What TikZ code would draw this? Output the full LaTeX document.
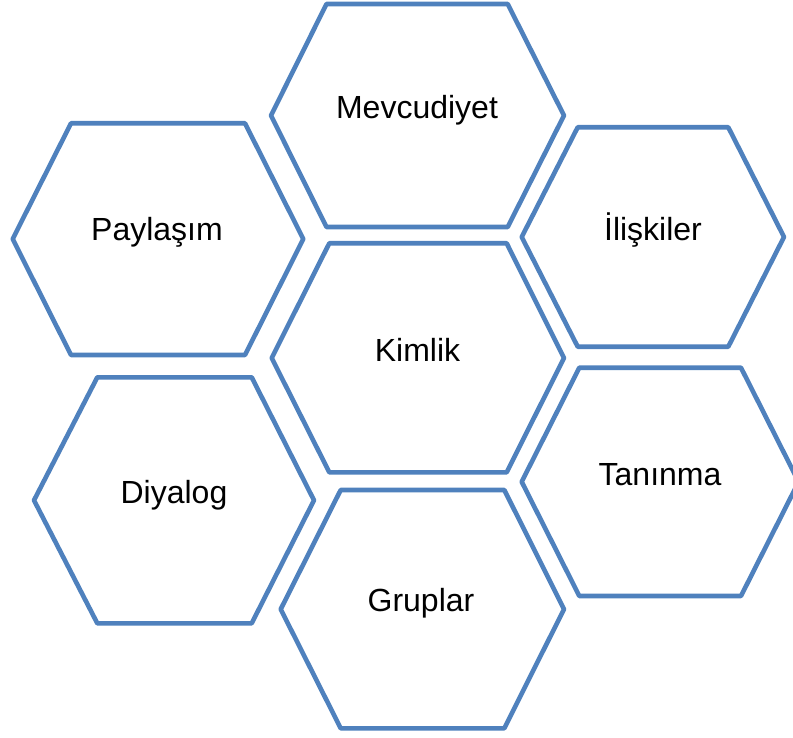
\documentclass[tikz,border=0pt]{standalone}
\usepackage{fontspec}
\setmainfont{Liberation Sans}
\definecolor{hexblue}{HTML}{4F81BD}
\begin{document}
\begin{tikzpicture}[x=1pt,y=-1pt,
  hexline/.style={draw=hexblue, line width=4.6pt, line join=round, fill=white},
  hexlabel/.style={anchor=base, font=\fontsize{32}{38}\selectfont, text=black, inner sep=0pt}]
\useasboundingbox (0,0) rectangle (793,738);
\clip (0,0) rectangle (793,738);
% cells: left vertex, top-left, top-right, right vertex, bottom-right, bottom-left
\draw[hexline] (271,115.5) -- (326.5,4) -- (507.7,4) -- (564,115.5) -- (507.7,227) -- (326.5,227) -- cycle;
\node[hexlabel] (mevcudiyet) at (417,118.5) {Mevcudiyet};

\draw[hexline] (12.7,239) -- (71,123.3) -- (245,123.3) -- (303.3,239) -- (245,355) -- (71,355) -- cycle;
\node[hexlabel] (paylasim) at (157,240.5) {Paylaşım};

\draw[hexline] (521.7,237) -- (577.7,127.3) -- (728.3,127.3) -- (784,237) -- (728.3,346.7) -- (577.7,346.7) -- cycle;
\node[hexlabel] (iliskiler) at (653,241) {İlişkiler};

\draw[hexline] (271.7,358) -- (329.3,243.3) -- (506.7,243.3) -- (564,358) -- (506.7,472.3) -- (329.3,472.3) -- cycle;
\node[hexlabel] (kimlik) at (417.5,361) {Kimlik};

\draw[hexline] (34,500.3) -- (97.3,377.3) -- (251.7,377.3) -- (314,500.3) -- (251.7,623.3) -- (97.3,623.3) -- cycle;
\node[hexlabel] (diyalog) at (174,503.3) {Diyalog};

\draw[hexline] (521.7,481.8) -- (579.3,367.7) -- (741,367.7) -- (798.6,481.8) -- (741,596) -- (579.3,596) -- cycle;
\node[hexlabel] (taninma) at (660,485) {Tanınma};

\draw[hexline] (280.7,609.2) -- (340.7,490) -- (504.3,490) -- (564,609.2) -- (504.3,728.3) -- (340.7,728.3) -- cycle;
\node[hexlabel] (gruplar) at (421,611.7) {Gruplar};
\end{tikzpicture}
\end{document}
